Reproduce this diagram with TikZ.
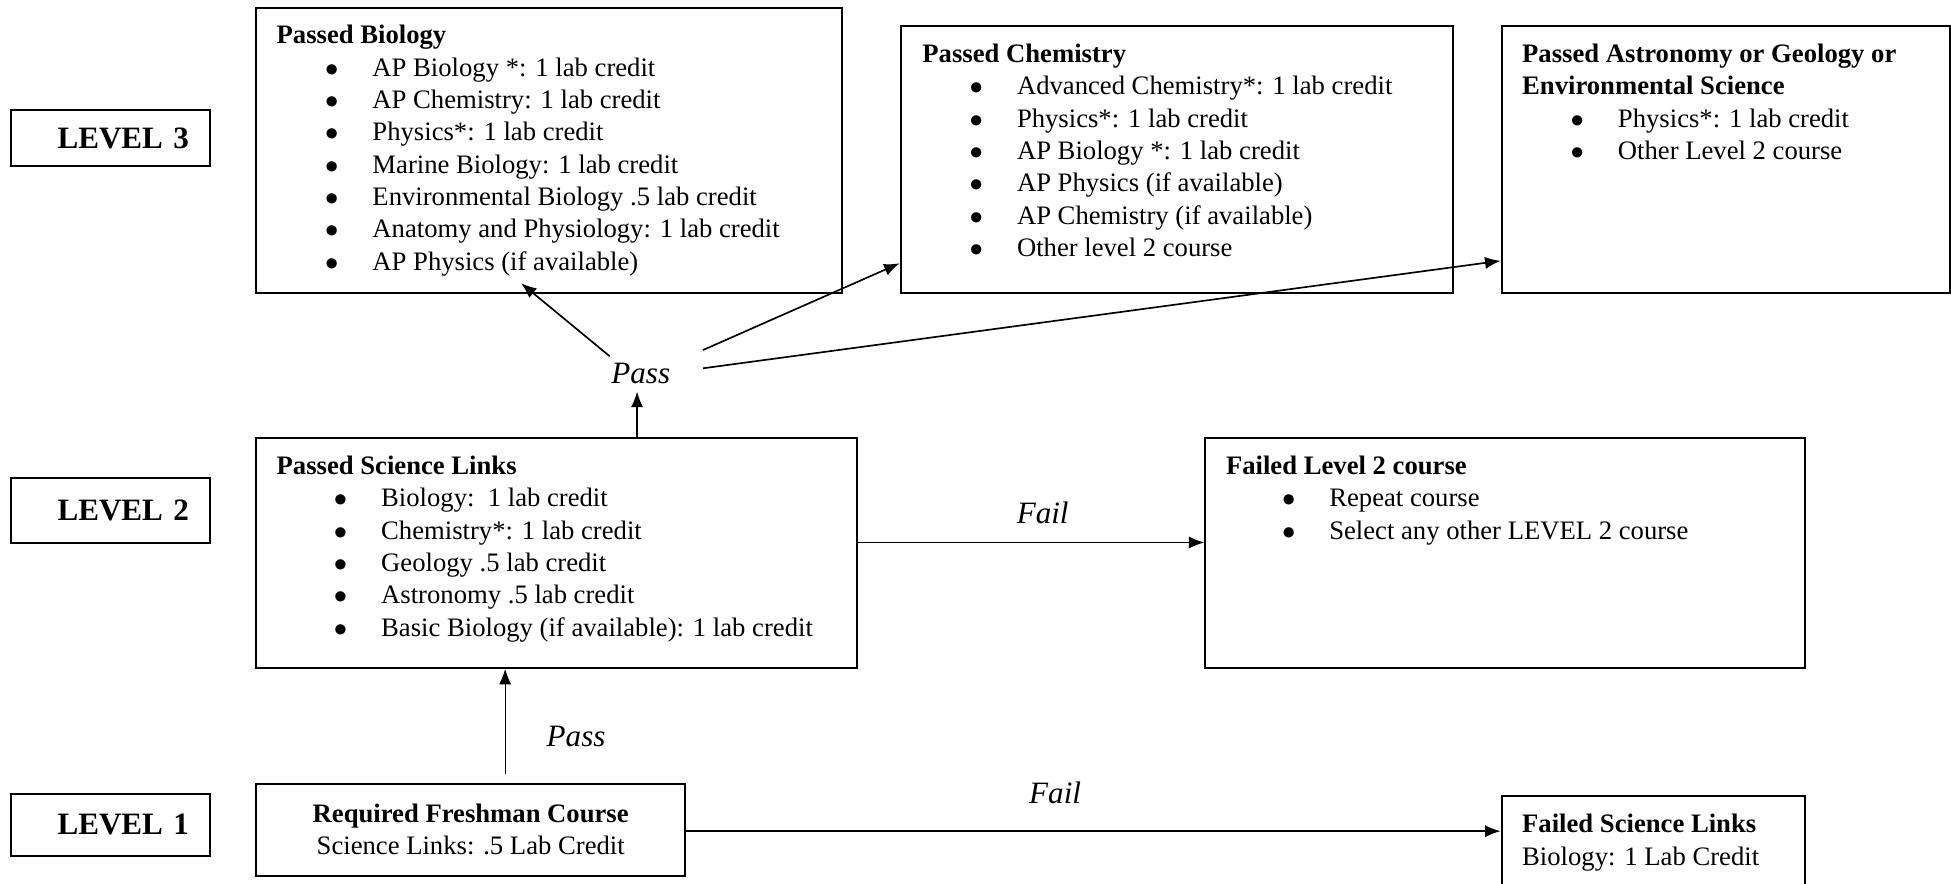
\documentclass[tikz,border=0pt]{standalone}
\usepackage{fontspec}
\setmainfont{Liberation Serif}
\usetikzlibrary{arrows,arrows.meta,positioning,calc}
\newlength\px
\setlength\px{0.56pt}
\newcommand{\itm}[2][40]{\hspace*{#1\px}\makebox[37\px][l]{\hspace*{-1\px}$\bullet$}#2}

\begin{document}
\begin{tikzpicture}[x=\px,y=-\px,>={Latex[length=7pt,width=5.5pt]},
  box/.style={draw,line width=0.9pt,anchor=north west,inner sep=0pt},
  level/.style={box,font=\fontsize{14}{17}\selectfont\bfseries,text width=126\px,inner xsep=17\px,align=right},
  list/.style={inner sep=0pt,align=left,font=\fontsize{12}{14.56}\selectfont},
  tag/.style={inner sep=0pt,font=\fontsize{14}{17}\selectfont\itshape},
  link/.style={->,line width=0.75pt}]
  \useasboundingbox (0,0) rectangle (1568,710);
  % levels
  \node[level,minimum height=45\px] (l3) at (8,88)  {LEVEL 3};
  \node[level,minimum height=53\px] (l2) at (8,383) {LEVEL 2};
  \node[level,minimum height=50\px] (l1) at (8,637) {LEVEL 1};
  % boxes
  \node[box,minimum width=471\px,minimum height=229\px] (bio)   at (205,6)   {};
  \node[box,minimum width=444\px,minimum height=215\px] (chem)  at (723,20)  {};
  \node[box,minimum width=360\px,minimum height=215\px] (astro) at (1206,20) {};
  \node[box,minimum width=483\px,minimum height=185\px] (scil)  at (205,351) {};
  \node[box,minimum width=482\px,minimum height=185\px] (fl2)   at (968,351) {};
  \node[box,list,align=center,minimum width=345\px,minimum height=74\px] (fresh) at (205,629)
    {\textbf{Required Freshman Course}\\Science Links: .5 Lab Credit};
  \node[box,minimum width=244\px,minimum height=80\px] (fsl) at (1206,639) {};
  % box texts
  \node[list,below right=14\px and 17\px of bio.north west] (biot) {\textbf{Passed Biology}\\
    \itm{AP Biology *: 1 lab credit}\\
    \itm{AP Chemistry: 1 lab credit}\\
    \itm{Physics*: 1 lab credit}\\
    \itm{Marine Biology: 1 lab credit}\\
    \itm{Environmental Biology .5 lab credit}\\
    \itm{Anatomy and Physiology: 1 lab credit}\\
    \itm{AP Physics (if available)}};
  \node[list,below right=15\px and 18\px of chem.north west] (chemt) {\textbf{Passed Chemistry}\\
    \itm[39]{Advanced Chemistry*: 1 lab credit}\\
    \itm[39]{Physics*: 1 lab credit}\\
    \itm[39]{AP Biology *: 1 lab credit}\\
    \itm[39]{AP Physics (if available)}\\
    \itm[39]{AP Chemistry (if available)}\\
    \itm[39]{Other level 2 course}};
  \node[list,below right=15\px and 17\px of astro.north west] (astrot) {\textbf{Passed Astronomy or Geology or}\\
    \textbf{Environmental Science}\\
    \itm{Physics*: 1 lab credit}\\
    \itm{Other Level 2 course}};
  \node[list,below right=15\px and 17\px of scil.north west] (scilt) {\textbf{Passed Science Links}\\
    \itm[47]{Biology:\ \ 1 lab credit}\\
    \itm[47]{Chemistry*: 1 lab credit}\\
    \itm[47]{Geology .5 lab credit}\\
    \itm[47]{Astronomy .5 lab credit}\\
    \itm[47]{Basic Biology (if available): 1 lab credit}};
  \node[list,below right=15\px and 17\px of fl2.north west] (fl2t) {\textbf{Failed Level 2 course}\\
    \itm[46]{Repeat course}\\
    \itm[46]{Select any other LEVEL 2 course}};
  \node[list,below right=15\px and 17\px of fsl.north west] (fslt) {\textbf{Failed Science Links}\\
    Biology: 1 Lab Credit};
  % labels
  \node[tag] (pass2) at (515,300) {Pass};
  \node[tag] (pass1) at (463,592) {Pass};
  \node[tag] (fail2) at (838,412) {Fail};
  \node[tag] (fail1) at (848,637) {Fail};
  % connectors
  \coordinate (up1) at ($(fresh.north west)+(201,-7)$);
  \draw[link,line width=0.45pt] (up1) -- (up1 |- scil.south);
  \coordinate (up2) at ($(scil.north west)+(307,0)$);
  \draw[link,shorten >=6\px] (up2) -- (up2 |- pass2.south);
  \draw[link] ($(pass2.north west)+(-1,-5)$) -- ($(bio.south)+(-22.5,-9)$);
  \draw[link] ($(pass2.north east)+(26,-10)$) -- ($(chem.south west)+(0,-25)$);
  \draw[link] ($(pass2.east)+(26,-4)$) -- ($(astro.south west)+(0,-27)$);
  \draw[link] ($(scil.north east)+(0,85)$) coordinate (f2) -- (f2 -| fl2.west);
  \draw[link] ($(fresh.north east)+(0,39)$) coordinate (f1) -- (f1 -| fsl.west);
\end{tikzpicture}
\end{document}
